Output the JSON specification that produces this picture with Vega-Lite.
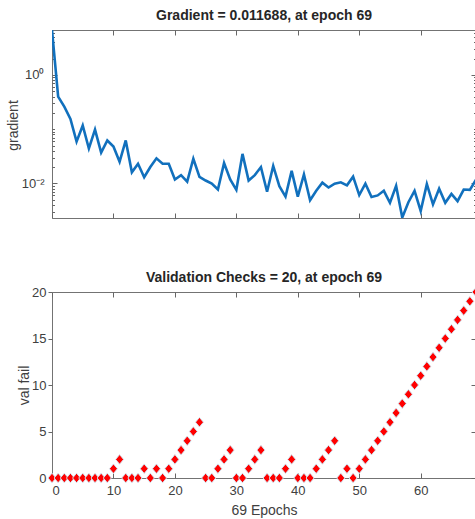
{
  "$schema": "https://vega.github.io/schema/vega-lite/v6.json",
  "padding": {"left": 5, "top": 8, "right": 0, "bottom": 5},
  "background": "white",
  "config": {
    "font": "Liberation Sans",
    "view": {"stroke": "#737373", "strokeWidth": 1},
    "axis": {"grid": false, "domain": false, "tickColor": "#666666", "tickWidth": 1, "labelColor": "#404040", "labelFont": "Liberation Sans", "labelFontSize": 13, "titleFont": "Liberation Sans", "titleFontSize": 14, "titleFontWeight": "normal", "titleColor": "#404040"},
    "title": {"font": "Liberation Sans", "fontSize": 14, "fontWeight": "bold", "color": "#262626", "anchor": "middle", "baseline": "alphabetic"}
  },
  "datasets": {
    "train": [
      {"epoch": 0, "gradient": 6.7, "valfail": 0},
      {"epoch": 1, "gradient": 0.40, "valfail": 0},
      {"epoch": 2, "gradient": 0.26, "valfail": 0},
      {"epoch": 3, "gradient": 0.155, "valfail": 0},
      {"epoch": 4, "gradient": 0.059, "valfail": 0},
      {"epoch": 5, "gradient": 0.117, "valfail": 0},
      {"epoch": 6, "gradient": 0.044, "valfail": 0},
      {"epoch": 7, "gradient": 0.098, "valfail": 0},
      {"epoch": 8, "gradient": 0.037, "valfail": 0},
      {"epoch": 9, "gradient": 0.062, "valfail": 0},
      {"epoch": 10, "gradient": 0.048, "valfail": 1},
      {"epoch": 11, "gradient": 0.025, "valfail": 2},
      {"epoch": 12, "gradient": 0.062, "valfail": 0},
      {"epoch": 13, "gradient": 0.016, "valfail": 0},
      {"epoch": 14, "gradient": 0.023, "valfail": 0},
      {"epoch": 15, "gradient": 0.013, "valfail": 1},
      {"epoch": 16, "gradient": 0.020, "valfail": 0},
      {"epoch": 17, "gradient": 0.029, "valfail": 1},
      {"epoch": 18, "gradient": 0.023, "valfail": 0},
      {"epoch": 19, "gradient": 0.023, "valfail": 1},
      {"epoch": 20, "gradient": 0.0118, "valfail": 2},
      {"epoch": 21, "gradient": 0.0142, "valfail": 3},
      {"epoch": 22, "gradient": 0.0108, "valfail": 4},
      {"epoch": 23, "gradient": 0.0285, "valfail": 5},
      {"epoch": 24, "gradient": 0.0132, "valfail": 6},
      {"epoch": 25, "gradient": 0.0113, "valfail": 0},
      {"epoch": 26, "gradient": 0.0099, "valfail": 0},
      {"epoch": 27, "gradient": 0.0077, "valfail": 1},
      {"epoch": 28, "gradient": 0.0237, "valfail": 2},
      {"epoch": 29, "gradient": 0.0118, "valfail": 3},
      {"epoch": 30, "gradient": 0.0076, "valfail": 0},
      {"epoch": 31, "gradient": 0.035, "valfail": 0},
      {"epoch": 32, "gradient": 0.0113, "valfail": 1},
      {"epoch": 33, "gradient": 0.0142, "valfail": 2},
      {"epoch": 34, "gradient": 0.020, "valfail": 3},
      {"epoch": 35, "gradient": 0.0070, "valfail": 0},
      {"epoch": 36, "gradient": 0.021, "valfail": 0},
      {"epoch": 37, "gradient": 0.0089, "valfail": 0},
      {"epoch": 38, "gradient": 0.0057, "valfail": 1},
      {"epoch": 39, "gradient": 0.017, "valfail": 2},
      {"epoch": 40, "gradient": 0.0057, "valfail": 0},
      {"epoch": 41, "gradient": 0.0146, "valfail": 0},
      {"epoch": 42, "gradient": 0.0049, "valfail": 0},
      {"epoch": 43, "gradient": 0.0073, "valfail": 1},
      {"epoch": 44, "gradient": 0.0103, "valfail": 2},
      {"epoch": 45, "gradient": 0.0084, "valfail": 3},
      {"epoch": 46, "gradient": 0.0099, "valfail": 4},
      {"epoch": 47, "gradient": 0.0105, "valfail": 0},
      {"epoch": 48, "gradient": 0.0092, "valfail": 1},
      {"epoch": 49, "gradient": 0.0133, "valfail": 0},
      {"epoch": 50, "gradient": 0.0061, "valfail": 1},
      {"epoch": 51, "gradient": 0.0099, "valfail": 2},
      {"epoch": 52, "gradient": 0.0056, "valfail": 3},
      {"epoch": 53, "gradient": 0.0060, "valfail": 4},
      {"epoch": 54, "gradient": 0.0073, "valfail": 5},
      {"epoch": 55, "gradient": 0.0044, "valfail": 6},
      {"epoch": 56, "gradient": 0.0090, "valfail": 7},
      {"epoch": 57, "gradient": 0.00235, "valfail": 8},
      {"epoch": 58, "gradient": 0.0045, "valfail": 9},
      {"epoch": 59, "gradient": 0.0073, "valfail": 10},
      {"epoch": 60, "gradient": 0.0031, "valfail": 11},
      {"epoch": 61, "gradient": 0.0097, "valfail": 12},
      {"epoch": 62, "gradient": 0.0041, "valfail": 13},
      {"epoch": 63, "gradient": 0.0080, "valfail": 14},
      {"epoch": 64, "gradient": 0.0044, "valfail": 15},
      {"epoch": 65, "gradient": 0.0064, "valfail": 16},
      {"epoch": 66, "gradient": 0.0047, "valfail": 17},
      {"epoch": 67, "gradient": 0.0077, "valfail": 18},
      {"epoch": 68, "gradient": 0.0076, "valfail": 19},
      {"epoch": 69, "gradient": 0.011688, "valfail": 20}
    ]
  },
  "spacing": 74,
  "bounds": "flush",
  "vconcat": [
    {
      "width": 424,
      "height": 188,
      "title": {"text": "Gradient = 0.011688, at epoch 69", "offset": 7},
      "data": {"name": "train"},
      "layer": [
        {
          "mark": {"type": "line", "color": "#1170bd", "strokeWidth": 2.6, "clip": true},
          "encoding": {
            "x": {"field": "epoch", "type": "quantitative", "scale": {"domain": [0, 69], "nice": false, "zero": false},
                  "axis": {"orient": "bottom", "values": [0, 10, 20, 30, 40, 50, 60], "labels": false, "tickSize": -5, "title": null}},
            "y": {"field": "gradient", "type": "quantitative", "scale": {"type": "log", "domain": [0.0023, 6.76], "nice": false},
                  "axis": {"orient": "left", "values": [0.01, 1], "tickSize": -5, "labelPadding": 13,
                           "labelExpr": "datum.value > 0.5 ? '10⁰' : '10⁻²'",
                           "title": "gradient", "titleX": -35, "titleY": 95, "titleAngle": 270, "titleBaseline": "alphabetic", "titleAlign": "center"}}
          }
        },
        {
          "mark": {"type": "line", "opacity": 0},
          "encoding": {
            "x": {"field": "epoch", "type": "quantitative", "scale": {"domain": [0, 69], "nice": false, "zero": false},
                  "axis": {"orient": "top", "values": [0, 10, 20, 30, 40, 50, 60], "labels": false, "tickSize": -5, "title": null}},
            "y": {"field": "gradient", "type": "quantitative", "scale": {"type": "log", "domain": [0.0023, 6.76], "nice": false},
                  "axis": {"orient": "right", "values": [0.01, 1], "labels": false, "tickSize": -5, "title": null}}
          }
        },
        {
          "mark": {"type": "line", "opacity": 0},
          "encoding": {
            "x": {"field": "epoch", "type": "quantitative", "scale": {"domain": [0, 69], "nice": false, "zero": false}, "axis": null},
            "y": {"field": "gradient", "type": "quantitative", "scale": {"type": "log", "domain": [0.0023, 6.76], "nice": false},
                  "axis": {"orient": "left", "values": [0.003, 0.004, 0.005, 0.006, 0.007, 0.008, 0.009, 0.02, 0.03, 0.04, 0.05, 0.06, 0.07, 0.08, 0.09, 0.1, 0.2, 0.3, 0.4, 0.5, 0.6, 0.7, 0.8, 0.9, 2, 3, 4, 5, 6], "labels": false, "tickSize": -2.5, "title": null}}
          }
        },
        {
          "mark": {"type": "line", "opacity": 0},
          "encoding": {
            "x": {"field": "epoch", "type": "quantitative", "scale": {"domain": [0, 69], "nice": false, "zero": false}, "axis": null},
            "y": {"field": "gradient", "type": "quantitative", "scale": {"type": "log", "domain": [0.0023, 6.76], "nice": false},
                  "axis": {"orient": "right", "values": [0.003, 0.004, 0.005, 0.006, 0.007, 0.008, 0.009, 0.02, 0.03, 0.04, 0.05, 0.06, 0.07, 0.08, 0.09, 0.1, 0.2, 0.3, 0.4, 0.5, 0.6, 0.7, 0.8, 0.9, 2, 3, 4, 5, 6], "labels": false, "tickSize": -2.5, "title": null}}
          }
        }
      ],
      "resolve": {"axis": {"x": "independent", "y": "independent"}}
    },
    {
      "width": 424,
      "height": 186,
      "title": {"text": "Validation Checks = 20, at epoch 69", "offset": 0.5},
      "data": {"name": "train"},
      "layer": [
        {
          "mark": {"type": "point", "shape": "M0,-1.2L1,0L0,1.2L-1,0Z", "filled": true, "fill": "#ff0000", "stroke": "#cdeefa", "strokeWidth": 0.9, "size": 64, "opacity": 1},
          "encoding": {
            "x": {"field": "epoch", "type": "quantitative", "scale": {"domain": [0, 69], "nice": false, "zero": false},
                  "axis": {"orient": "bottom", "values": [0, 10, 20, 30, 40, 50, 60], "tickSize": -5, "labelPadding": 11,
                           "title": "69 Epochs", "titleX": 212, "titleY": 36, "titleBaseline": "alphabetic", "titleAlign": "center"}},
            "y": {"field": "valfail", "type": "quantitative", "scale": {"domain": [0, 20], "nice": false},
                  "axis": {"orient": "left", "values": [0, 5, 10, 15, 20], "tickSize": 4, "labelPadding": 2,
                           "title": "val fail", "titleX": -24, "titleY": 93, "titleAngle": 270, "titleBaseline": "alphabetic", "titleAlign": "center"}}
          }
        },
        {
          "mark": {"type": "line", "opacity": 0},
          "encoding": {
            "x": {"field": "epoch", "type": "quantitative", "scale": {"domain": [0, 69], "nice": false, "zero": false},
                  "axis": {"orient": "top", "values": [0, 10, 20, 30, 40, 50, 60], "labels": false, "tickSize": -5, "title": null}},
            "y": {"field": "valfail", "type": "quantitative", "scale": {"domain": [0, 20], "nice": false},
                  "axis": {"orient": "right", "values": [0, 5, 10, 15, 20], "labels": false, "tickSize": -5, "title": null}}
          }
        }
      ],
      "resolve": {"axis": {"x": "independent", "y": "independent"}}
    }
  ]
}
